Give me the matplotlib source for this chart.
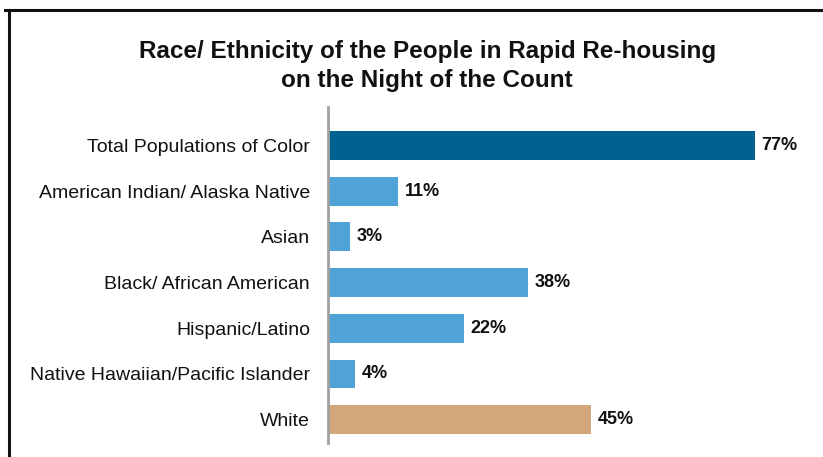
import matplotlib.pyplot as plt
from matplotlib.lines import Line2D

# data
categories = ['Total Populations of Color', 'American Indian/ Alaska Native', 'Asian',
              'Black/ African American', 'Hispanic/Latino',
              'Native Hawaiian/Pacific Islander', 'White']
labels = ['77%', '11%', '3%', '38%', '22%', '4%', '45%']
# bar lengths as drawn (they do not follow the labels exactly)
bar_len = [76.3, 12.5, 3.9, 35.7, 24.3, 4.8, 47.0]
colors = ['#01628f', '#50a3d6', '#50a3d6', '#50a3d6', '#50a3d6', '#50a3d6', '#d3a67c']

plt.rcParams['font.family'] = ['Liberation Sans', 'DejaVu Sans']

fig = plt.figure(figsize=(8.23, 4.57), dpi=100)
ax = fig.add_axes([0.3985, 0.0306, 0.578, 0.7353])

y = range(len(categories))
ax.barh(y, bar_len, height=0.63, color=colors)
for i, (v, t) in enumerate(zip(bar_len, labels)):
    ax.text(v + 1.2, i, t, va='center', ha='left', fontsize=13, fontweight='bold', color='#111111')

ax.set_xlim(0, 85)
ax.set_ylim(6.51, -0.84)
ax.set_yticks(list(y))
ax.set_yticklabels(categories, fontsize=14, color='#111111')
ax.tick_params(axis='y', length=0, pad=13)
ax.set_xticks([])
for s in ['top', 'right', 'bottom']:
    ax.spines[s].set_visible(False)
ax.spines['left'].set_color('#a0a0a0')
ax.spines['left'].set_linewidth(2)

fig.text(0.519, 0.855, 'Race/ Ethnicity of the People in Rapid Re-housing\non the Night of the Count',
         ha='center', va='center', fontsize=17.5, fontweight='bold', linespacing=1.35, color='#111111')

# frame lines
fig.add_artist(Line2D([0.006, 1], [0.978, 0.978], transform=fig.transFigure, color='#111111', lw=2.2))
fig.add_artist(Line2D([0.011, 0.011], [0, 0.978], transform=fig.transFigure, color='#111111', lw=2.2))

fig.savefig('out.png', dpi=100)
